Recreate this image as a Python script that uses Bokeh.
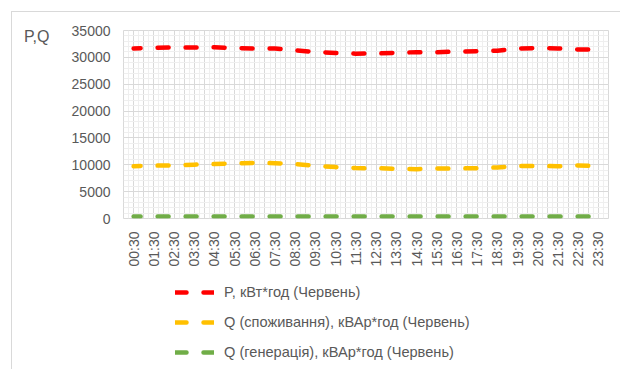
from bokeh.plotting import figure
from bokeh.layouts import column
from bokeh.models import FixedTicker, Legend, LegendItem, ColumnDataSource, LinearAxis
from bokeh.embed import file_html
from bokeh.resources import INLINE

# Hourly readings for June (Червень)
hours = ["00:30", "01:30", "02:30", "03:30", "04:30", "05:30", "06:30", "07:30",
         "08:30", "09:30", "10:30", "11:30", "12:30", "13:30", "14:30", "15:30",
         "16:30", "17:30", "18:30", "19:30", "20:30", "21:30", "22:30", "23:30"]

p_active = [31650, 31780, 31840, 31840, 31880, 31740, 31650, 31650,
            31300, 31000, 30820, 30690, 30720, 30850, 30970, 30970,
            31060, 31150, 31240, 31650, 31740, 31650, 31470, 31470]

q_consumption = [9740, 9830, 9910, 10020, 10130, 10240, 10350, 10300,
                 10110, 9830, 9570, 9380, 9370, 9250, 9190, 9290,
                 9310, 9380, 9500, 9780, 9800, 9720, 9870, 9760]

q_generation = [350, 350, 350, 350, 350, 350, 350, 350,
                350, 350, 350, 350, 350, 350, 350, 350,
                350, 350, 350, 350, 350, 350, 350, 350]

series_labels = ["P, кВт*год (Червень)",
                 "Q (споживання), кВАр*год (Червень)",
                 "Q (генерація), кВАр*год (Червень)"]
series_colors = ["#FF0000", "#FFC000", "#70AD47"]
series_cols = ["p", "qc", "qg"]

TEXT = "#595959"
FONT = "Liberation Sans"
DASH = "11 17"

xs = [i + 0.5 for i in range(len(hours))]
src = ColumnDataSource(dict(x=xs, p=p_active, qc=q_consumption, qg=q_generation))

# ---- chart ----
p = figure(width=620, height=275, x_range=(0, 24), y_range=(0, 35000),
           output_backend="svg", toolbar_location=None,
           min_border_left=123, min_border_right=12,
           min_border_top=30, min_border_bottom=57)
p.background_fill_color = "white"
p.border_fill_color = None
p.outline_line_color = "#d9d9d9"

# grid: half-category major lines, quarter minor lines; 5000/1000 horizontally
p.xgrid.ticker = FixedTicker(ticks=[i * 0.5 for i in range(49)],
                             minor_ticks=[i * 0.5 + 0.25 for i in range(48)])
p.ygrid.ticker = FixedTicker(ticks=list(range(0, 35001, 5000)),
                             minor_ticks=list(range(0, 35001, 1000)))
for g in (p.xgrid, p.ygrid):
    g.grid_line_color = "#d9d9d9"
    g.grid_line_width = 1
    g.minor_grid_line_color = "#efefef"
    g.minor_grid_line_width = 1

# axes
p.xaxis.ticker = FixedTicker(ticks=xs)
p.xaxis.major_label_overrides = {x: h for x, h in zip(xs, hours)}
p.xaxis.major_label_orientation = 3.14159265 / 2
p.xaxis.major_label_standoff = 7
p.yaxis.ticker = FixedTicker(ticks=list(range(0, 35001, 5000)))
p.yaxis.major_label_standoff = 7

# "P,Q" caption as a single-tick outer axis near the top of the value scale
pq_axis = LinearAxis(ticker=FixedTicker(ticks=[33900]),
                     major_label_overrides={33900: "P,Q"},
                     major_label_standoff=13)
pq_axis.major_label_text_font_size = "16px"
p.add_layout(pq_axis, "left")

for ax in (p.xaxis[0], p.yaxis[0], pq_axis):
    ax.axis_line_color = None
    ax.major_tick_line_color = None
    ax.minor_tick_line_color = None
    ax.major_label_text_font = FONT
    ax.major_label_text_color = TEXT
p.xaxis.major_label_text_font_size = "14px"
p.yaxis[0].major_label_text_font_size = "14px"

for col, color in zip(series_cols, series_colors):
    p.line("x", col, source=src, line_color=color, line_width=4.5,
           line_dash=DASH, line_dash_offset=4, line_cap="round")

# ---- legend strip ----
lp = figure(width=620, height=94, x_range=(0, 1), y_range=(0, 1),
            x_axis_type=None, y_axis_type=None,
            output_backend="svg", toolbar_location=None,
            min_border=0)
lp.background_fill_color = None
lp.border_fill_color = None
lp.outline_line_color = None
lp.grid.visible = False

# the key renderers share the series data, which lies outside this strip's ranges
items = []
for label, col, color in zip(series_labels, series_cols, series_colors):
    r = lp.line("x", col, source=src, line_color=color, line_width=4.5,
                line_dash=DASH, line_cap="round")
    items.append(LegendItem(label=label, renderers=[r]))

legend = Legend(items=items, location=(52, 7), orientation="vertical",
                glyph_width=39, glyph_height=20, label_height=20,
                label_standoff=10, spacing=10, padding=0, margin=0,
                border_line_color=None, background_fill_alpha=0,
                label_text_font=FONT, label_text_font_size="14.6px",
                label_text_color=TEXT)
lp.add_layout(legend)

# light frame around the chart area, drawn behind the transparent canvases
page = column(p, lp, spacing=0, styles={
    "background": "linear-gradient(#d9d9d9, #d9d9d9) 11px 11px / 1px 420px no-repeat, "
                  "linear-gradient(#d9d9d9, #d9d9d9) 11px 11px / 700px 1px no-repeat, "
                  "white"
})

open("out.html", "w").write(file_html(page, INLINE))
